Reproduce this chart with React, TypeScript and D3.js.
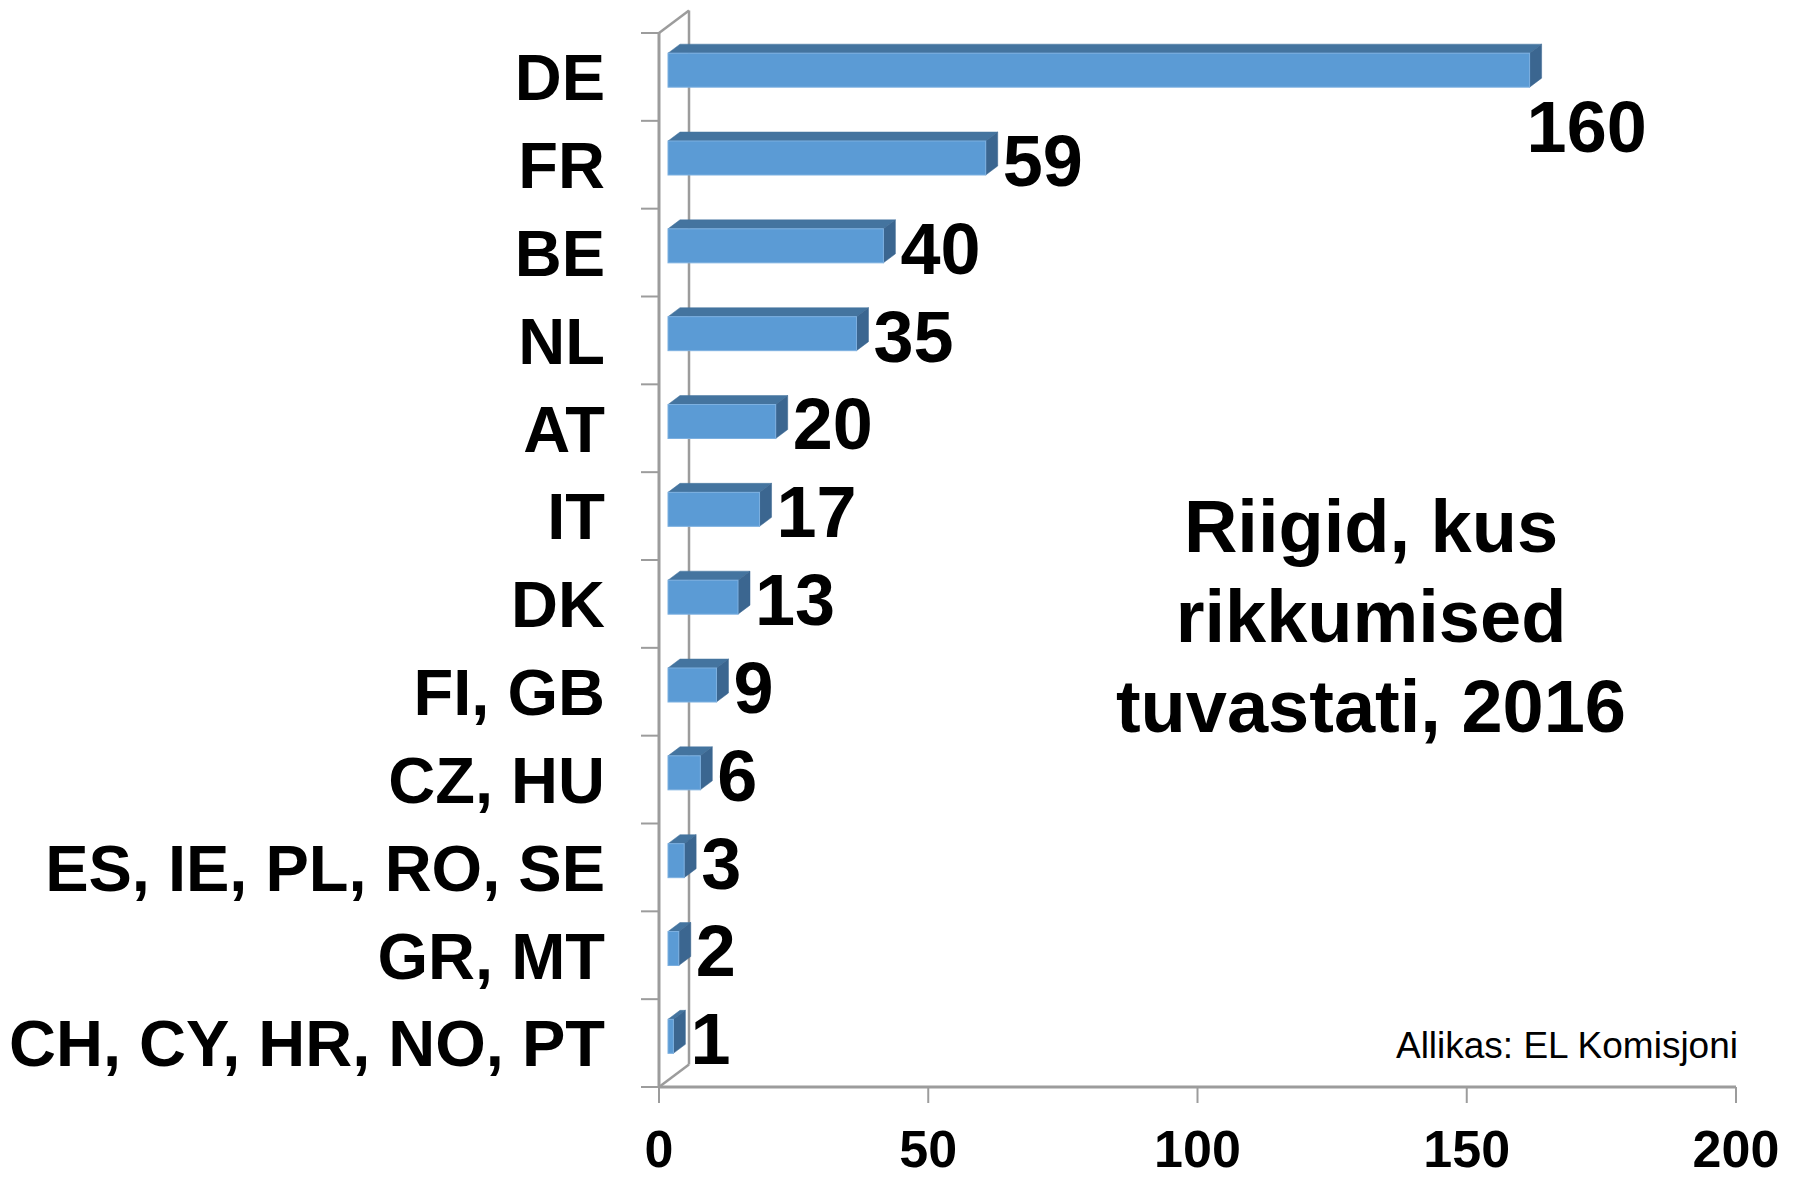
import React from "react";
import * as d3 from "d3";

const categories = [
  "DE",
  "FR",
  "BE",
  "NL",
  "AT",
  "IT",
  "DK",
  "FI, GB",
  "CZ, HU",
  "ES, IE, PL, RO, SE",
  "GR, MT",
  "CH, CY, HR, NO, PT",
];
const values = [160, 59, 40, 35, 20, 17, 13, 9, 6, 3, 2, 1];
const xTicks = [0, 50, 100, 150, 200];
const titleLines = ["Riigid, kus", "rikkumised", "tuvastati, 2016"];
const sourceText = "Allikas: EL Komisjoni";

const W = 1796;
const H = 1180;
const FONT = "'Liberation Sans', Arial, Helvetica, sans-serif";

export default function App() {
  const left = 659;
  const right = 1736;
  const top = 33;
  const bottom = 1087;
  const DX = 30;
  const DY = -22.5;
  const barFront = 0.3;
  const barBack = 0.7;
  const barThick = 34;
  const axisColor = "#9c9c9c";

  const x = d3.scaleLinear().domain([0, 200]).range([left, right]);
  const y = d3.scaleBand<string>().domain(categories).range([top, bottom]);
  const bw = y.bandwidth();

  const ox = DX * barFront;
  const oy = DY * barFront;
  const ddx = DX * (barBack - barFront);
  const ddy = DY * (barBack - barFront);

  const boundaries = d3.range(categories.length + 1).map((i) => top + i * bw);

  return (
    <svg
      width={W}
      height={H}
      style={{ position: "absolute", left: 0, top: 0, background: "#fff" }}
      fontFamily={FONT}
    >
      <rect x={0} y={0} width={W} height={H} fill="#ffffff" />
      {/* left wall */}
      <g stroke={axisColor} fill="none">
        <line x1={left} y1={top} x2={left} y2={bottom} strokeWidth={3} />
        <line x1={left + DX} y1={top + DY} x2={left + DX} y2={bottom + DY} strokeWidth={2.5} />
        <line x1={left} y1={top} x2={left + DX} y2={top + DY} strokeWidth={2.5} />
        <line x1={left} y1={bottom} x2={left + DX} y2={bottom + DY} strokeWidth={2.5} />
        {boundaries.map((b, i) => (
          <line key={"ct" + i} x1={left - 18} y1={b} x2={left} y2={b} strokeWidth={2} />
        ))}
        <line x1={left} y1={bottom} x2={right} y2={bottom} strokeWidth={3} />
        {xTicks.map((t) => (
          <line key={"xt" + t} x1={x(t)} y1={bottom} x2={x(t)} y2={bottom + 16} strokeWidth={2} />
        ))}
      </g>

      {/* bars */}
      {categories.map((c, i) => {
        const v = values[i];
        const cy = (y(c) as number) + bw / 2;
        const y0 = cy - barThick / 2 + oy;
        const y1 = cy + barThick / 2 + oy;
        const x0 = x(0) + ox;
        const x1 = x(v) + ox;
        const topFace = `M${x0},${y0} L${x0 + ddx},${y0 + ddy} L${x1 + ddx},${y0 + ddy} L${x1},${y0} Z`;
        const sideFace = `M${x1},${y0} L${x1 + ddx},${y0 + ddy} L${x1 + ddx},${y1 + ddy} L${x1},${y1} Z`;
        const below = v > 0.75 * 200;
        const fs = 72;
        const lx = below ? x1 - 3 : x1 + ddx + 5;
        const ly = below ? y1 + 65 : (y0 + y1) / 2 + 0.36 * fs + 2;
        return (
          <g key={c}>
            <path d={topFace} fill="#44749f" stroke="#44749f" strokeWidth={0.5} />
            <path d={sideFace} fill="#3b6690" stroke="#3b6690" strokeWidth={0.5} />
            <rect x={x0} y={y0} width={x1 - x0} height={y1 - y0} fill="#5b9bd5" stroke="#7db0e0" strokeWidth={1} />
            <text x={lx} y={ly} fontSize={fs} fontWeight="bold" fill="#000">
              {v}
            </text>
          </g>
        );
      })}

      {/* category labels */}
      {categories.map((c) => (
        <text
          key={"l" + c}
          x={605}
          y={(y(c) as number) + bw / 2 + 0.36 * 65}
          fontSize={65}
          fontWeight="bold"
          textAnchor="end"
          fill="#000"
        >
          {c}
        </text>
      ))}

      {/* x tick labels */}
      {xTicks.map((t) => (
        <text
          key={"xl" + t}
          x={x(t)}
          y={1167}
          fontSize={52}
          fontWeight="bold"
          textAnchor="middle"
          fill="#000"
        >
          {t}
        </text>
      ))}

      {/* title */}
      {titleLines.map((t, i) => (
        <text
          key={"t" + i}
          x={1371}
          y={552 + i * 90}
          fontSize={74}
          fontWeight="bold"
          textAnchor="middle"
          fill="#000"
        >
          {t}
        </text>
      ))}

      <text x={1738} y={1058} fontSize={37} textAnchor="end" fill="#000">
        {sourceText}
      </text>
    </svg>
  );
}
